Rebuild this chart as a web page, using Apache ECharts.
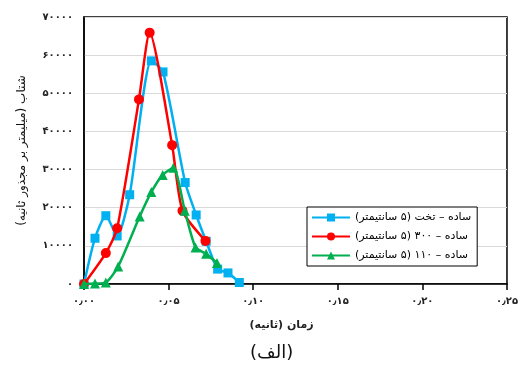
<!DOCTYPE html>
<html>
<head>
<meta charset="utf-8">
<script src="https://cdn.jsdelivr.net/npm/echarts@6/dist/echarts.min.js"></script>
<style>html,body{margin:0;padding:0;background:#fff}#c{width:521px;height:370px}</style>
</head>
<body>
<div id="c"></div>
<script>
var seriesNames = ['ساده – تخت (۵ سانتیمتر)', 'ساده – ۳۰۰ (۵ سانتیمتر)', 'ساده – ۱۱۰ (۵ سانتیمتر)'];
var blueT = [0, 0.0065, 0.0129, 0.0196, 0.027, 0.0398, 0.0467, 0.0598, 0.0663, 0.0722, 0.079, 0.0851, 0.0918];
var blueA = [0, 12000, 17900, 12600, 23400, 58500, 55600, 26600, 18100, 11200, 3900, 2900, 400];
var redT = [0, 0.0129, 0.0196, 0.0325, 0.0388, 0.0521, 0.0582, 0.0718];
var redA = [0, 8100, 14600, 48400, 65900, 36400, 19200, 11300];
var greenT = [0, 0.0065, 0.0129, 0.0202, 0.0329, 0.0398, 0.0465, 0.0528, 0.0596, 0.0659, 0.0722, 0.0786];
var greenA = [0, 100, 400, 4600, 17700, 24100, 28600, 30500, 19200, 9600, 7900, 5500];
var xTickLabels = ['۰٫۰۰', '۰٫۰۵', '۰٫۱۰', '۰٫۱۵', '۰٫۲۰', '۰٫۲۵'];
var yTickLabels = ['۰', '۱۰۰۰۰', '۲۰۰۰۰', '۳۰۰۰۰', '۴۰۰۰۰', '۵۰۰۰۰', '۶۰۰۰۰', '۷۰۰۰۰'];
var xName = 'زمان (ثانیه)';
var yName = 'شتاب (میلیمتر بر مجذور ثانیه)';
var captionText = '(الف)';

function rtl(s) { return '\u200F' + s + '\u200F'; }
function pairs(t, a) { return t.map(function (v, i) { return [v, a[i]]; }); }

var FONT = "'DejaVu Sans', sans-serif";
var chart = echarts.init(document.getElementById('c'));
chart.setOption({
  animation: false,
  textStyle: { fontFamily: FONT },
  grid: { left: 84, right: 12, top: 17, bottom: 86, show: true, borderColor: '#000', borderWidth: 1.5 },
  xAxis: {
    type: 'value', min: 0, max: 0.25, interval: 0.05,
    name: rtl(xName), nameLocation: 'middle', nameGap: 36,
    nameTextStyle: { fontSize: 11, fontWeight: 'bold', color: '#222', padding: [0, 28, 0, 0] },
    axisLine: { show: true, lineStyle: { color: '#000', width: 1.5 } },
    axisTick: { show: true, length: 6, lineStyle: { color: '#000', width: 1.5 } },
    axisLabel: { fontSize: 10, fontWeight: 'bold', color: '#222', margin: 12,
      formatter: function (v) { return xTickLabels[Math.round(v / 0.05)]; } },
    splitLine: { show: false }
  },
  yAxis: {
    type: 'value', min: 0, max: 70000, interval: 10000,
    name: rtl(yName), nameLocation: 'middle', nameGap: 56, nameRotate: 90,
    nameTextStyle: { fontSize: 12, color: '#111' },
    axisLine: { show: true, lineStyle: { color: '#000', width: 1.5 } },
    axisTick: { show: false },
    axisLabel: { fontSize: 10, fontWeight: 'bold', color: '#222', margin: 11,
      formatter: function (v) { return yTickLabels[Math.round(v / 10000)]; } },
    splitLine: { show: true, lineStyle: { color: '#d9d9d9', width: 1 } }
  },
  legend: {
    orient: 'vertical', left: 307, top: 207,
    backgroundColor: '#fff', borderColor: '#000', borderWidth: 1,
    padding: [5, 6, 5, 4], itemGap: 8, itemWidth: 38, itemHeight: 10,
    textStyle: { fontSize: 11, color: '#000' },
    data: seriesNames.map(function (n) { return { name: n }; }),
    formatter: function (n) { return rtl(n); }
  },
  graphic: [{
    type: 'text', left: 250, top: 344,
    style: { text: captionText, fontSize: 18, fill: '#111', fontFamily: FONT }
  }],
  series: [
    { name: seriesNames[0], type: 'line', data: pairs(blueT, blueA), smooth: 0.22,
      symbol: 'rect', symbolSize: 9, color: '#00B0F0', lineStyle: { width: 2.5 }, z: 2 },
    { name: seriesNames[1], type: 'line', data: pairs(redT, redA), smooth: 0.22,
      symbol: 'circle', symbolSize: 10, color: '#FF0000', lineStyle: { width: 2.5 }, z: 3 },
    { name: seriesNames[2], type: 'line', data: pairs(greenT, greenA), smooth: 0.22,
      symbol: 'triangle', symbolSize: 10, color: '#00B050', lineStyle: { width: 2.5 }, z: 4 }
  ]
});
</script>
</body>
</html>
